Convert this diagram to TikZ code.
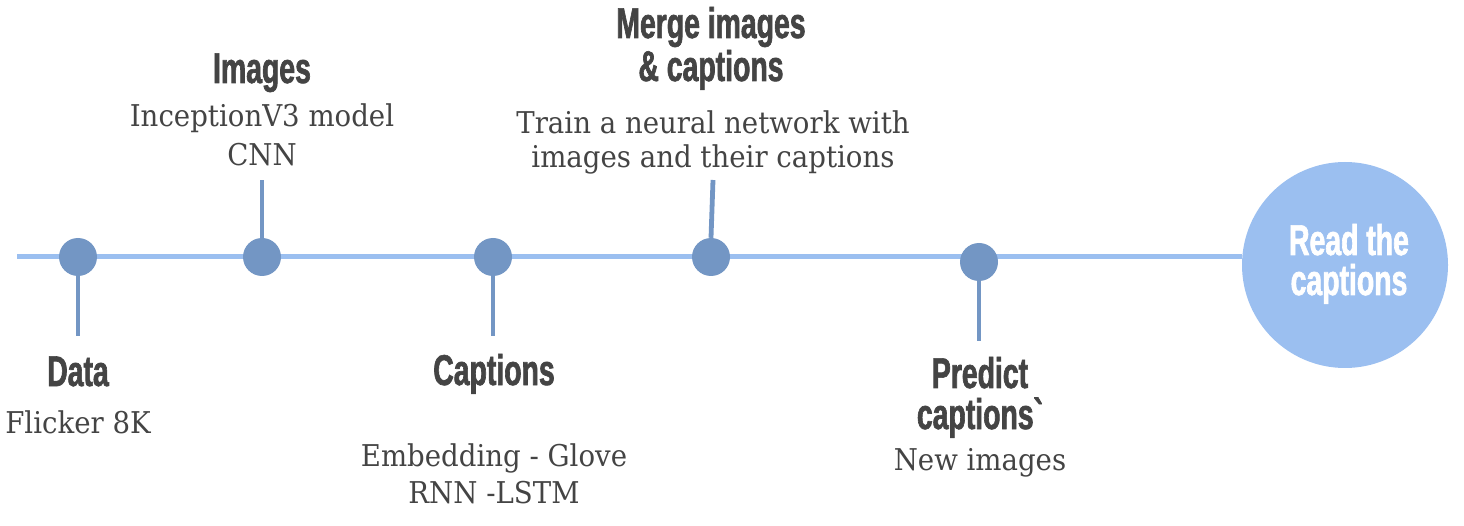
\documentclass[tikz,border=0pt]{standalone}
\usepackage{fontspec}
\newfontfamily\headfont[FakeStretch=0.66,FakeBold=1.5]{Liberation Sans Bold}
\newfontfamily\bodyfont[FakeStretch=0.92]{DejaVu Serif}
\definecolor{txt}{HTML}{444444}
\definecolor{dotc}{HTML}{7396C4}
\definecolor{linec}{HTML}{9BBFF0}
\tikzset{
  dotn/.style={circle,fill=dotc,minimum size=38pt,inner sep=0pt},
  stem/.style={draw=dotc,line width=4.8pt},
  head/.style={anchor=base,text=txt,font=\headfont\fontsize{43}{46}\selectfont,inner sep=0pt},
  body/.style={anchor=base,text=txt,font=\bodyfont\fontsize{30}{34}\selectfont,inner sep=0pt},
  bigc/.style={circle,fill=linec,minimum size=206pt,inner sep=0pt},
}
\begin{document}
\begin{tikzpicture}[x=1pt,y=-1pt]
\useasboundingbox (0,0) rectangle (1464,526);
% main line
\coordinate (L0) at (17,257);
\node[bigc] (R) at (1345,265) {};
\draw[linec,line width=5pt] (L0) -- (R.west |- L0);
% dots
\node[dotn] (d1) at (78,257) {};
\node[dotn] (d2) at (262,257) {};
\node[dotn] (d3) at (493,257) {};
\node[dotn] (d4) at (711,257) {};
\node[dotn] (d5) at (979,262) {};
% stem ends
\coordinate (s1) at (78,336);
\coordinate (s2) at (262,180);
\coordinate (s3) at (493,336);
\coordinate (s4) at (713,180);
\coordinate (s5) at (979,341);
\draw[stem] (d1.south) -- (s1);
\draw[stem] (d2.north) -- (s2);
\draw[stem] (d3.south) -- (s3);
\draw[stem] (d4.north) -- (s4);
\draw[stem] (d5.south) -- (s5);
% texts
\node[head] (h1) at (78,386) {Data};
\node[body] (b1) at (78,433) {Flicker 8K};
\node[head] (h2) at (262,83) {Images};
\node[body] (b2a) at (262,127) {InceptionV3 model};
\node[body] (b2b) at (262,166) {CNN};
\node[head] (h3) at (494,385) {Captions};
\node[body] (b3a) at (494,466) {Embedding - Glove};
\node[body] (b3b) at (494,503) {RNN -LSTM};
\node[head] (h4a) at (711,38) {Merge images};
\node[head] (h4b) at (711,81) {\& captions};
\node[body] (b4a) at (713,134) {Train a neural network with};
\node[body] (b4b) at (713,168) {images and their captions};
\node[head] (h5a) at (980,388) {Predict};
\node[head] (h5b) at (980,429) {captions`};
\node[body] (b5) at (980,470) {New images};
\node[head,text=white] (r1) at (1349,255) {Read the};
\node[head,text=white] (r2) at (1349,295) {captions};
\end{tikzpicture}
\end{document}
